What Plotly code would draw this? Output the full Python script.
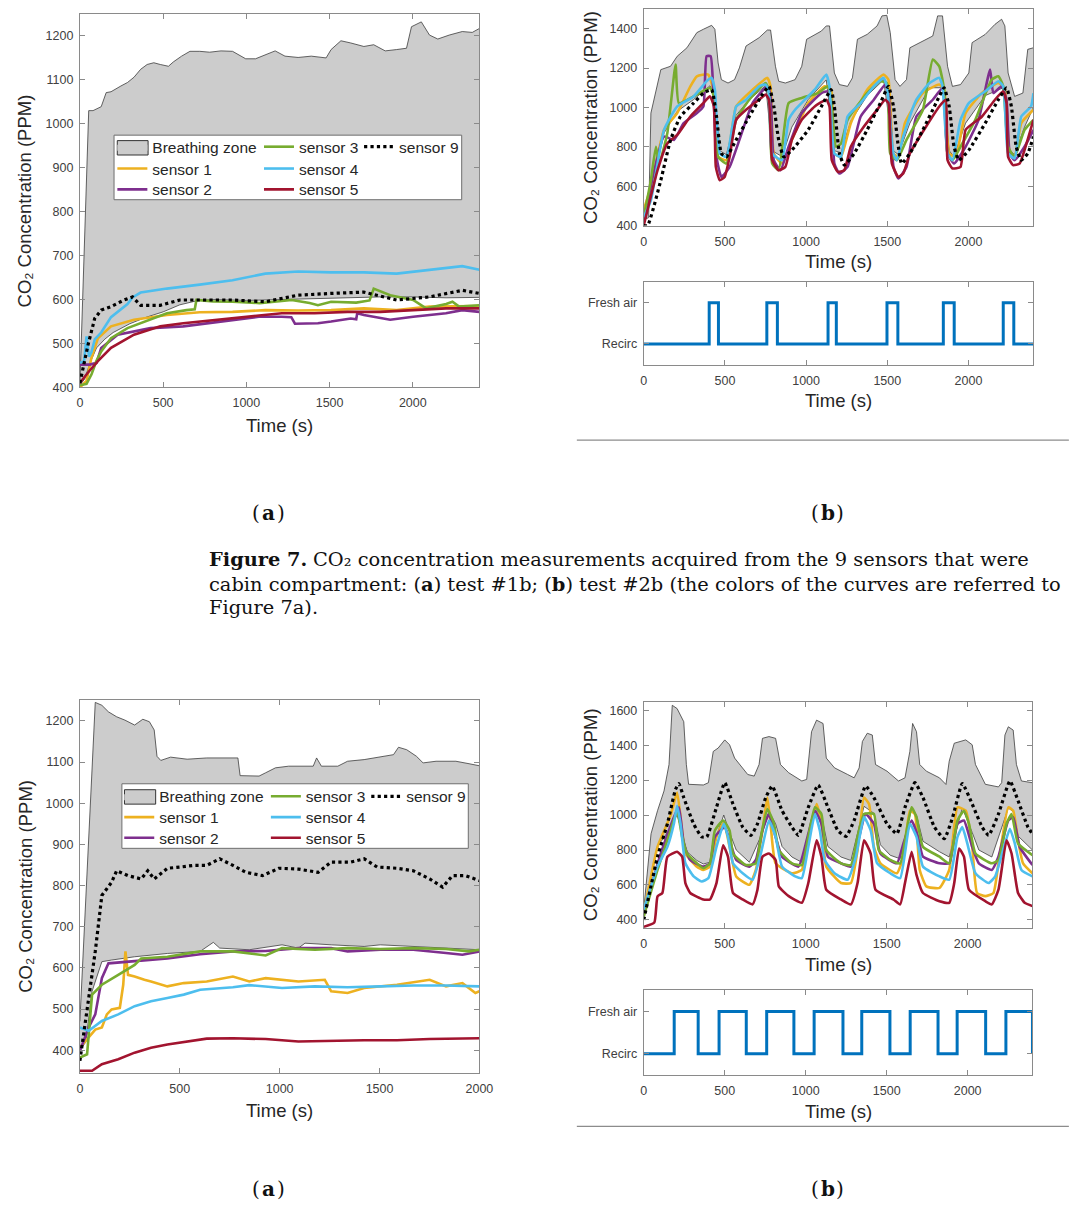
import plotly.graph_objects as go

W, H = 1083, 1209          # target picture size
PAGE_M = 8                 # default body margin of the html page
FW, FH = W - 2 * PAGE_M, H - 2 * PAGE_M

# ================= DATA (time s, CO2 ppm) =================
# ---- Figure 7a (top-left): test #1b ----
a_bz_low = [(0,405),(30,420),(60,455),(100,490),(150,510),(200,525),(300,545),(400,560),(500,572),(600,588),
            (700,597),(800,600),(1000,598),(1200,600),(1400,603),(1600,604),(1800,606),(2000,606),(2200,604),(2400,605)]
a_bz_up = [(0,405),(53,1030),(79,1030),(128,1039),(158,1071),(187,1073),(246,1086),(286,1094),(325,1106),(365,1124),
           (404,1135),(444,1139),(483,1135),(532,1131),(562,1141),(611,1154),(661,1165),(720,1165),(779,1163),(848,1166),
           (917,1165),(996,1148),(1055,1148),(1114,1157),(1173,1166),(1232,1154),(1311,1151),(1390,1154),(1479,1150),
           (1509,1169),(1568,1189),(1627,1184),(1706,1176),(1765,1180),(1834,1166),(1903,1169),(1962,1172),(1992,1221),
           (2051,1232),(2100,1202),(2150,1193),(2219,1202),(2297,1210),(2357,1208),(2400,1217)]
a_s1 = [(0,400),(40,415),(69,467),(108,512),(187,539),(325,554),(523,565),(720,571),(917,572),(1114,576),(1311,575),
        (1509,576),(1706,580),(1903,576),(2100,584),(2297,584),(2400,585)]
a_s2 = [(0,452),(60,452),(100,456),(128,490),(227,520),(424,535),(621,539),(759,546),(917,554),(1075,561),(1213,561),
        (1270,560),(1292,545),(1430,546),(1509,550),(1627,557),(1660,555),(1666,569),(1706,565),(1824,557),(1864,554),
        (2002,561),(2199,569),(2297,576),(2400,572)]
a_s3 = [(0,405),(40,408),(70,430),(99,460),(128,482),(187,512),(286,535),(424,554),(523,569),(641,576),(690,578),
        (700,599),(800,596),(917,595),(1080,592),(1272,599),(1380,592),(1430,587),(1509,595),(1660,593),(1740,598),
        (1765,625),(1864,610),(2002,599),(2080,580),(2200,590),(2238,595),(2278,584),(2400,587)]
a_s4 = [(0,456),(25,460),(40,516),(55,470),(69,480),(90,510),(128,525),(187,560),(286,590),(316,605),(365,616),
        (523,625),(720,634),(917,644),(1114,659),(1311,664),(1509,662),(1706,662),(1903,659),(2100,668),(2297,676),(2400,668)]
a_s5 = [(0,410),(49,434),(108,460),(187,490),(325,520),(483,539),(621,546),(818,554),(1016,561),(1213,569),(1410,569),
        (1607,572),(1805,572),(2002,576),(2199,580),(2400,580)]
a_s9 = [(0,410),(49,497),(89,557),(128,576),(187,584),(266,599),(316,606),(365,587),(483,587),(601,599),(720,599),
        (917,599),(1114,595),(1311,610),(1509,614),(1706,617),(1903,599),(2100,606),(2297,621),(2400,614)]

# ---- Figure 7b (top-right): test #2b ----
b_bz_low = [(0,430),(44,560),(125,870),(206,980),(307,1040),(408,1110),(438,1060),(468,780),(509,760),(569,960),
            (650,1040),(751,1110),(791,780),(852,750),(912,900),(1013,1040),(1124,1140),(1174,780),(1215,770),(1275,930),
            (1376,1060),(1477,1140),(1538,780),(1568,760),(1639,920),(1760,1100),(1840,1100),(1881,780),(1911,750),
            (1982,920),(2103,1060),(2214,1100),(2254,780),(2284,760),(2345,900),(2400,1000)]
b_bz_up = [(0,430),(30,440),(44,971),(105,1192),(165,1209),(206,1260),(266,1303),(327,1380),(367,1397),(418,1417),
           (438,1397),(458,1226),(478,1141),(519,1124),(559,1141),(589,1201),(630,1312),(710,1354),(761,1393),(781,1393),
           (811,1209),(831,1133),(872,1124),(932,1141),(973,1209),(1003,1346),(1094,1388),(1124,1414),(1144,1414),
           (1174,1175),(1205,1116),(1255,1107),(1285,1150),(1316,1346),(1376,1371),(1437,1414),(1467,1465),(1497,1468),
           (1518,1380),(1548,1141),(1578,1107),(1618,1141),(1639,1303),(1699,1329),(1780,1363),(1810,1465),(1840,1465),
           (1871,1209),(1901,1107),(1951,1116),(2002,1175),(2022,1329),(2103,1371),(2163,1422),(2204,1448),(2224,1414),
           (2244,1175),(2284,1056),(2335,1073),(2365,1295),(2400,1303)]
b_s1 = [(0,480),(44,596),(125,886),(206,971),(287,1107),(327,1158),(397,1167),(428,1090),(458,749),(509,732),(569,1005),
        (670,1090),(761,1150),(781,1107),(801,766),(852,715),(912,835),(1013,1022),(1114,1107),(1154,1090),(1174,766),
        (1215,749),(1275,920),(1376,1090),(1477,1167),(1507,1141),(1538,766),(1568,749),(1608,920),(1719,1073),
        (1820,1116),(1850,1090),(1881,766),(1921,749),(1982,971),(2083,1073),(2184,1124),(2224,1090),(2254,766),
        (2284,749),(2325,920),(2400,988)]
b_s2 = [(0,425),(125,852),(186,835),(246,920),(327,971),(367,1005),(387,1260),(412,1260),(428,1090),(448,749),(478,647),
        (529,698),(589,835),(670,1022),(761,1107),(781,1056),(801,732),(842,681),(892,800),(973,971),(1094,1073),
        (1134,1082),(1154,1039),(1174,715),(1205,664),(1255,698),(1336,954),(1417,1039),(1487,1116),(1507,1073),
        (1538,698),(1568,639),(1618,698),(1679,954),(1780,1039),(1840,1099),(1871,766),(1911,715),(1982,800),(2062,937),
        (2133,1192),(2153,1073),(2204,1107),(2234,1039),(2254,766),(2284,732),(2345,800),(2400,886)]
b_s3 = [(0,443),(44,630),(75,800),(95,715),(145,869),(196,1218),(216,1022),(307,1056),(408,1099),(438,1039),(458,749),
        (509,715),(569,937),(650,1039),(751,1124),(771,1073),(791,715),(831,681),(892,1022),(973,1048),(1073,1073),
        (1134,1107),(1154,1039),(1185,800),(1215,817),(1255,937),(1376,1073),(1457,1133),(1497,1124),(1518,766),
        (1558,732),(1618,835),(1719,988),(1780,1243),(1820,1209),(1850,1090),(1871,766),(1901,732),(1962,817),
        (2042,937),(2143,1141),(2184,1158),(2214,1107),(2244,800),(2284,749),(2345,886),(2400,937)]
b_s4 = [(0,443),(44,528),(125,886),(206,1005),(307,1056),(387,1133),(418,1150),(438,1090),(468,766),(509,749),(549,920),
        (569,1005),(630,1039),(710,1107),(751,1116),(771,1073),(791,766),(852,732),(892,937),(932,988),(1053,1090),
        (1124,1167),(1144,1107),(1174,766),(1215,749),(1255,954),(1336,1022),(1417,1107),(1477,1150),(1497,1107),
        (1538,766),(1558,732),(1598,852),(1679,1039),(1760,1124),(1820,1150),(1840,1107),(1871,766),(1901,732),
        (1951,937),(2002,1022),(2103,1082),(2184,1133),(2214,1107),(2244,766),(2284,741),(2325,954),(2385,1005),(2400,1073)]
b_s5 = [(0,400),(85,681),(145,817),(206,860),(287,954),(367,1022),(408,1056),(432,1005),(444,698),(468,630),(498,647),
        (529,749),(569,937),(630,988),(710,1039),(751,1065),(771,1039),(791,732),(831,681),(872,698),(912,835),(973,937),
        (1053,1005),(1124,1039),(1144,1005),(1158,732),(1195,673),(1235,681),(1275,800),(1356,903),(1437,988),
        (1487,1039),(1507,1022),(1528,715),(1568,647),(1598,664),(1639,766),(1739,903),(1820,1005),(1860,1039),
        (1871,732),(1901,690),(1951,698),(1982,886),(2083,954),(2163,1039),(2214,1082),(2234,1022),(2244,749),
        (2274,707),(2315,715),(2345,783),(2400,937)]
b_s9 = [(0,400),(24,400),(105,630),(165,835),(226,954),(307,1022),(367,1073),(418,1090),(448,954),(478,766),(509,749),
        (569,835),(650,954),(730,1065),(771,1107),(801,1005),(831,835),(862,749),(912,783),(1013,886),(1094,1005),
        (1154,1090),(1174,1005),(1205,766),(1235,707),(1296,766),(1376,886),(1457,1022),(1507,1107),(1538,1005),
        (1568,800),(1588,715),(1639,766),(1719,886),(1800,1022),(1850,1099),(1881,1005),(1911,800),(1941,732),
        (2002,783),(2103,920),(2184,1039),(2234,1099),(2264,1005),(2294,800),(2325,732),(2365,766),(2400,852)]
b_mode_t = [0, 403, 460, 758, 823, 1135, 1186, 1498, 1565, 1845, 1912, 2214, 2279, 2400]
b_mode_v = [0, 1, 0, 1, 0, 1, 0, 1, 0, 1, 0, 1, 0, 0]

# ---- bottom-left (a) ----
c_bz_low = [(0,400),(30,420),(61,543),(110,615),(159,619),(274,627),(438,635),(602,640),(668,662),(700,648),(848,644),
            (1012,656),(1094,648),(1127,660),(1258,656),(1423,652),(1504,656),(1669,652),(1833,648),(2000,644)]
c_bz_up = [(0,470),(77,1245),(110,1238),(143,1222),(184,1210),(225,1202),(274,1190),(315,1204),(348,1198),(372,1178),
           (386,1114),(405,1104),(454,1112),(537,1107),(635,1110),(791,1110),(802,1067),(897,1066),(930,1074),(979,1086),
           (1045,1090),(1168,1090),(1185,1110),(1209,1090),(1291,1090),(1340,1102),(1423,1106),(1521,1114),(1570,1118),
           (1595,1136),(1636,1130),(1685,1114),(1718,1098),(1783,1102),(1882,1102),(1948,1096),(2000,1091)]
c_s1 = [(0,406),(44,430),(77,450),(110,455),(135,487),(159,499),(200,503),(217,559),(228,640),(241,583),(274,579),
        (323,571),(356,567),(438,555),(520,563),(635,567),(766,579),(848,567),(930,575),(1094,567),(1226,571),(1258,543),
        (1340,539),(1423,551),(1587,559),(1751,571),(1833,555),(1915,563),(1980,539),(2000,543)]
c_s2 = [(0,398),(44,455),(77,487),(110,575),(143,611),(241,615),(307,619),(438,623),(602,633),(766,640),(930,641),
        (1094,648),(1258,648),(1340,640),(1504,644),(1669,644),(1833,636),(1915,632),(2000,640)]
c_s3 = [(0,382),(36,390),(61,535),(110,559),(192,583),(274,607),(307,623),(438,627),(602,640),(766,640),(930,630),
        (1012,648),(1176,644),(1340,648),(1504,646),(1669,648),(1833,646),(1948,640),(2000,644)]
c_s4 = [(0,455),(44,447),(110,471),(192,487),(274,507),(356,519),(438,527),(520,535),(602,547),(766,553),(848,558),
        (1012,551),(1176,555),(1340,553),(1504,555),(1669,557),(1833,557),(2000,555)]
c_s5 = [(0,350),(61,350),(110,366),(192,378),(274,394),(356,406),(438,414),(537,421),(635,428),(766,429),(930,427),
        (1094,421),(1258,423),(1423,424),(1587,424),(1751,427),(2000,429)]
c_s9 = [(0,374),(44,519),(77,640),(110,776),(159,808),(184,836),(241,824),(307,816),(340,836),(372,816),(438,842),
        (504,845),(569,849),(635,849),(700,865),(766,849),(832,832),(914,824),(996,842),(1094,840),(1193,832),(1258,857),
        (1357,857),(1423,865),(1488,845),(1587,842),(1669,836),(1751,816),(1816,796),(1865,824),(1931,824),(2000,812)]

# ---- bottom-right (b) ----
d_bz_low = [(0,420),(85,820),(146,900),(206,1000),(237,900),(267,790),(328,740),(368,720),(409,730),(449,880),(494,1000),
            (530,900),(571,800),(652,730),(733,900),(773,1020),(814,950),(854,820),(915,760),(976,730),(1057,1030),
            (1097,1000),(1137,820),(1218,760),(1279,740),(1360,1050),(1421,1010),(1461,830),(1522,770),(1583,750),
            (1654,1040),(1684,1000),(1724,850),(1826,790),(1886,760),(1967,1040),(2028,900),(2069,800),(2149,760),
            (2251,1040),(2281,1020),(2311,880),(2400,800)]
d_bz_up = [(0,460),(45,893),(85,1025),(125,1138),(156,1289),(176,1628),(206,1609),(247,1534),(263,1289),(277,1176),
           (368,1172),(399,1185),(429,1364),(459,1383),(500,1430),(530,1402),(561,1326),(611,1270),(642,1232),(682,1223),
           (712,1289),(733,1439),(773,1449),(814,1439),(844,1289),(895,1242),(976,1195),(1006,1204),(1036,1477),
           (1067,1543),(1107,1524),(1127,1326),(1178,1270),(1259,1232),(1299,1213),(1330,1270),(1350,1421),(1380,1468),
           (1411,1458),(1431,1289),(1502,1251),(1573,1195),(1613,1213),(1643,1364),(1660,1524),(1684,1477),(1704,1289),
           (1745,1251),(1826,1213),(1866,1175),(1886,1308),(1917,1411),(1988,1430),(2028,1402),(2048,1289),(2109,1176),
           (2190,1161),(2210,1185),(2230,1458),(2251,1505),(2281,1486),(2301,1289),(2332,1195),(2400,1185)]
d_s1 = [(0,440),(85,818),(166,1000),(206,1129),(237,912),(257,780),(328,705),(368,686),(409,705),(449,875),(494,959),
        (530,818),(571,649),(652,601),(692,686),(733,912),(763,1100),(783,950),(814,724),(915,667),(976,686),(1016,875),
        (1067,1063),(1097,950),(1127,705),(1218,611),(1279,611),(1320,799),(1360,1100),(1391,1063),(1421,818),
        (1461,724),(1563,667),(1603,762),(1643,1025),(1674,1006),(1704,686),(1745,592),(1826,583),(1886,686),
        (1937,1044),(1988,1025),(2028,818),(2058,554),(2109,536),(2159,554),(2190,724),(2251,1044),(2281,1025),
        (2311,856),(2342,724),(2400,667)]
d_s2 = [(0,440),(105,780),(186,987),(217,1044),(247,837),(287,743),(368,705),(409,724),(439,875),(500,931),(530,856),
        (571,743),(652,705),(692,743),(733,912),(773,1006),(814,875),(854,762),(955,705),(1016,893),(1057,1025),
        (1097,950),(1137,762),(1218,724),(1279,705),(1330,875),(1370,1006),(1421,950),(1461,780),(1563,724),(1603,837),
        (1654,969),(1694,875),(1724,762),(1826,724),(1886,724),(1937,950),(1977,969),(2028,818),(2069,724),(2149,686),
        (2190,762),(2251,969),(2281,987),(2321,818),(2400,714)]
d_s3 = [(0,420),(85,686),(166,912),(206,1025),(237,875),(267,780),(328,724),(368,696),(409,724),(439,912),(490,969),
        (530,912),(551,780),(631,714),(692,724),(723,875),(763,1035),(804,950),(834,799),(915,724),(976,714),(1016,875),
        (1057,1044),(1097,1006),(1127,799),(1218,724),(1279,714),(1320,875),(1360,1006),(1421,1006),(1451,799),
        (1522,743),(1583,724),(1623,912),(1654,1044),(1684,988),(1724,818),(1826,762),(1886,724),(1937,969),(1977,1025),
        (2008,950),(2048,780),(2149,724),(2190,743),(2240,950),(2271,1006),(2311,837),(2400,771)]
d_s4 = [(0,460),(85,705),(146,818),(186,950),(206,1053),(227,950),(257,724),(308,649),(358,620),(399,639),(449,818),
        (494,950),(520,875),(551,724),(611,667),(672,630),(723,780),(773,969),(814,875),(854,705),(935,649),(976,639),
        (1016,818),(1057,1006),(1087,912),(1117,743),(1178,667),(1259,630),(1310,762),(1360,988),(1401,912),(1441,724),
        (1522,667),(1583,639),(1643,950),(1684,875),(1724,705),(1826,649),(1886,630),(1937,875),(1967,931),(1998,837),
        (2048,667),(2129,611),(2170,649),(2230,837),(2261,922),(2291,837),(2332,686),(2400,649)]
d_s5 = [(0,360),(65,385),(85,535),(115,554),(146,762),(206,790),(237,762),(257,611),(287,554),(368,517),(409,517),
        (449,611),(490,827),(520,762),(551,554),(611,517),(672,489),(702,573),(733,762),(773,780),(814,743),(834,592),
        (895,536),(976,498),(1016,611),(1067,856),(1097,762),(1127,573),(1218,517),(1279,489),(1320,611),(1360,856),
        (1401,780),(1431,573),(1542,517),(1583,489),(1613,611),(1654,790),(1684,658),(1724,554),(1826,507),(1886,498),
        (1917,611),(1947,809),(1977,762),(2008,573),(2109,507),(2149,489),(2190,573),(2240,856),(2271,780),(2311,554),
        (2352,498),(2400,479)]
d_s9 = [(0,400),(85,762),(146,950),(196,1147),(217,1180),(247,1100),(308,950),(358,875),(389,875),(449,1044),(500,1185),
        (551,1063),(611,931),(662,884),(702,950),(753,1100),(793,1166),(854,1025),(915,931),(955,884),(1016,1044),
        (1077,1172),(1137,1044),(1198,912),(1249,878),(1299,969),(1370,1166),(1421,1100),(1502,950),(1563,893),
        (1613,1044),(1674,1185),(1724,1100),(1795,931),(1856,865),(1907,987),(1967,1180),(2028,1063),(2089,931),
        (2129,884),(2190,1006),(2261,1195),(2311,1082),(2372,931),(2400,893)]
d_mode_t = [0, 188, 336, 465, 633, 759, 927, 1052, 1230, 1346, 1520, 1645, 1817, 1935, 2111, 2236, 2400]
d_mode_v = [0, 1, 0, 1, 0, 1, 0, 1, 0, 1, 0, 1, 0, 1, 0, 1, 0]

SENSOR_NAMES = ['sensor 1', 'sensor 2', 'sensor 3', 'sensor 4', 'sensor 5', 'sensor 9']
SENSOR_COLORS = ['#EDB120', '#7E2F8E', '#77AC30', '#4DBEEE', '#A2142F', '#000000']
X_TICKS = [0, 500, 1000, 1500, 2000]
MODE_LABELS = ['Recirc', 'Fresh air']

# ================= FIGURE =================
SANS = 'Liberation Sans, Arial, sans-serif'
SERIF = 'DejaVu Serif, serif'
BZ_FILL = '#cccccc'
AX_COL = '#8a8a8a'


def xs(p):
    return [t for t, _ in p]


def ys(p):
    return [v for _, v in p]


def px(xp):
    """picture x (px) -> paper fraction"""
    return (xp - PAGE_M) / FW


def py(yp):
    """picture y (px from top) -> paper fraction"""
    return 1 - (yp - PAGE_M) / FH


fig = go.Figure()

LEG_COL = [0, 0, 0, 1, 1, 1, 2]
LEG_ROW = [0, 1, 2, 0, 1, 2, 0]


def add_panel(xa, ya, bz_low, bz_up, sensors, shape, leg_ids=None):
    lo_line = dict(color='#3c3c3c', width=0.8)
    fig.add_trace(go.Scatter(x=xs(bz_low), y=ys(bz_low), xaxis=xa, yaxis=ya, mode='lines',
                             line=lo_line, showlegend=False, hoverinfo='skip'))
    fig.add_trace(go.Scatter(x=xs(bz_up), y=ys(bz_up), xaxis=xa, yaxis=ya, mode='lines',
                             line=lo_line, fill='tonexty', fillcolor=BZ_FILL,
                             showlegend=False, hoverinfo='skip'))
    if leg_ids:
        fig.add_trace(go.Scatter(x=[None], y=[None], xaxis=xa, yaxis=ya, mode='lines',
                                 fill='toself', fillcolor=BZ_FILL,
                                 line=dict(color=BZ_FILL, width=0),
                                 name='Breathing zone', legend=leg_ids[0]))
    for i, (name, col, data) in enumerate(zip(SENSOR_NAMES, SENSOR_COLORS, sensors)):
        is9 = name == 'sensor 9'
        ln = dict(color=col, width=3.2 if is9 else 2.6, dash='dot' if is9 else 'solid')
        if shape == 'spline':
            ln.update(shape='spline', smoothing=0.45)
        kw = dict(showlegend=False)
        if leg_ids:
            kw = dict(showlegend=True, legend=leg_ids[i + 1])
        fig.add_trace(go.Scatter(x=xs(data), y=ys(data), xaxis=xa, yaxis=ya, mode='lines',
                                 line=ln, name=name, **kw))


LEG_A = ['legend'] + ['legend%d' % k for k in range(2, 8)]
LEG_C = ['legend%d' % k for k in range(8, 15)]

add_panel('x', 'y', a_bz_low, a_bz_up, [a_s1, a_s2, a_s3, a_s4, a_s5, a_s9], 'linear', LEG_A)
add_panel('x2', 'y2', b_bz_low, b_bz_up, [b_s1, b_s2, b_s3, b_s4, b_s5, b_s9], 'spline')
fig.add_trace(go.Scatter(x=b_mode_t, y=b_mode_v, xaxis='x3', yaxis='y3', mode='lines',
                         line=dict(color='#0072BD', width=3, shape='hv'), showlegend=False, name='mode'))
add_panel('x4', 'y4', c_bz_low, c_bz_up, [c_s1, c_s2, c_s3, c_s4, c_s5, c_s9], 'linear', LEG_C)
add_panel('x5', 'y5', d_bz_low, d_bz_up, [d_s1, d_s2, d_s3, d_s4, d_s5, d_s9], 'spline')
fig.add_trace(go.Scatter(x=d_mode_t, y=d_mode_v, xaxis='x6', yaxis='y6', mode='lines',
                         line=dict(color='#0072BD', width=3, shape='hv'), showlegend=False, name='mode'))

axbase = dict(showline=True, linecolor=AX_COL, linewidth=1, mirror='ticks', ticks='inside', ticklen=5,
              tickcolor=AX_COL, tickwidth=1, showgrid=False, zeroline=False,
              tickfont=dict(family=SANS, size=12.5, color='#404040'))


def xax(x0, x1, anchor, rng):
    return dict(axbase, domain=[px(x0), px(x1)], anchor=anchor, range=rng, tickvals=X_TICKS,
                ticklabelstandoff=4)


def yax(top, bot, anchor, rng, tv, tt=None):
    d = dict(axbase, domain=[py(bot), py(top)], anchor=anchor, range=rng, tickvals=tv, ticklabelstandoff=3)
    if tt:
        d['ticktext'] = tt
    return d


LEG_FS = 15.5
legfont = dict(family=SANS, size=LEG_FS, color='#262626')
ITEM_OFF = (LEG_FS * 1.3 + 3) / 2 + 5   # plotly: first item centre below legend top


def leg(xl, row_centre):
    return dict(x=px(xl), y=py(row_centre - ITEM_OFF), xanchor='left', yanchor='top',
                bgcolor='rgba(0,0,0,0)', borderwidth=0, font=legfont, orientation='v',
                itemwidth=30, tracegroupgap=0, traceorder='normal')


legend_layout = {}
a_cols, a_rows = [111, 260, 361.7], [146.5, 168.5, 189.5]
c_cols, c_rows = [118, 267, 369], [800.5, 821.5, 842.3]
for k in range(7):
    legend_layout[LEG_A[k]] = leg(a_cols[LEG_COL[k]], a_rows[LEG_ROW[k]])
    legend_layout[LEG_C[k]] = leg(c_cols[LEG_COL[k]], c_rows[LEG_ROW[k]])


def ann(text, x, y, size, family=SANS, color='#262626', angle=0, xanchor='center', weight='normal'):
    return dict(text=text, x=px(x), y=py(y), xref='paper', yref='paper', showarrow=False,
                font=dict(family=family, size=size, color=color, weight=weight), textangle=angle,
                xanchor=xanchor, yanchor='middle')


def sub_label(letter, xc, y):
    # "(a)" with a bold letter, as three plain texts
    return [ann('(', xc - 6.6, y, 20, SERIF, '#111111', xanchor='right'),
            ann(letter, xc, y, 20, SERIF, '#111111', weight='bold'),
            ann(')', xc + 6.6, y, 20, SERIF, '#111111', xanchor='left')]


YT = 'CO\u2082 Concentration (PPM)'
CAP = 19.4
annotations = [
    ann('Time (s)', 281, 427, 18.5), ann(YT, 22, 201, 18.5, angle=-90),
    ann('Time (s)', 849, 262, 18.5), ann(YT, 597, 117, 18.5, angle=-90),
    ann('Time (s)', 849, 402, 18.5),
    ann('Time (s)', 281, 1117, 18.5), ann(YT, 22, 891, 18.5, angle=-90),
    ann('Time (s)', 849, 970, 18.5), ann(YT, 597, 819, 18.5, angle=-90),
    ann('Time (s)', 849, 1118, 18.5),
    *sub_label('a', 270, 515), *sub_label('b', 838, 515),
    *sub_label('a', 270, 1196), *sub_label('b', 838, 1196),
    ann('Figure 7.', 207, 562, CAP, SERIF, '#111111', xanchor='left', weight='bold'),
    ann('CO\u2082 concentration measurements acquired from the 9 sensors that were',
        313, 562, CAP, SERIF, '#111111', xanchor='left'),
    ann('cabin compartment: (<b>a</b>) test #1b; (<b>b</b>) test #2b (the colors of the curves are referred to',
        207, 587, CAP, SERIF, '#111111', xanchor='left'),
    ann('Figure 7a).', 207, 611, CAP, SERIF, '#111111', xanchor='left'),
]


def rect(x0, y0, x1, y1, fill, line, lw=1):
    return dict(type='rect', xref='paper', yref='paper', x0=px(x0), x1=px(x1), y0=py(y1), y1=py(y0),
                fillcolor=fill, line=dict(color=line, width=lw), layer='above')


shapes = [
    rect(112.7, 135, 466, 200, 'white', '#6e6e6e'),
    rect(116, 140.5, 147.3, 155, BZ_FILL, '#333333'),
    rect(120.7, 788, 472.7, 853, 'white', '#6e6e6e'),
    rect(123.3, 794, 155, 808.5, BZ_FILL, '#333333'),
    dict(type='line', xref='paper', yref='paper', x0=px(583), x1=px(W), y0=py(442), y1=py(442),
         line=dict(color='#8c8c8c', width=1.2)),
    dict(type='line', xref='paper', yref='paper', x0=px(583), x1=px(W), y0=py(1133), y1=py(1133),
         line=dict(color='#8c8c8c', width=1.2)),
]

fig.update_layout(
    width=FW, height=FH, autosize=False, margin=dict(l=0, r=0, t=0, b=0),
    paper_bgcolor='white', plot_bgcolor='white', showlegend=True,
    xaxis=xax(78, 484, 'y', [0, 2400]),
    yaxis=yax(13, 389, 'x', [400, 1250], list(range(400, 1201, 100))),
    xaxis2=xax(651, 1047, 'y2', [0, 2400]),
    yaxis2=yax(8, 226, 'x2', [400, 1500], list(range(400, 1401, 200))),
    xaxis3=xax(651, 1047, 'y3', [0, 2400]),
    yaxis3=yax(283, 366, 'x3', [-0.5, 1.5], [0, 1], MODE_LABELS),
    xaxis4=xax(78, 484, 'y4', [0, 2000]),
    yaxis4=yax(704, 1079, 'x4', [345, 1250], list(range(400, 1201, 100))),
    xaxis5=xax(651, 1046, 'y5', [0, 2400]),
    yaxis5=yax(706, 933, 'x5', [355, 1645], list(range(400, 1601, 200))),
    xaxis6=xax(651, 1046, 'y6', [0, 2400]),
    yaxis6=yax(996, 1081, 'x6', [-0.5, 1.5], [0, 1], MODE_LABELS),
    annotations=annotations, shapes=shapes,
    **legend_layout,
)

fig.write_html('out.html', config={'displayModeBar': False, 'responsive': False})
